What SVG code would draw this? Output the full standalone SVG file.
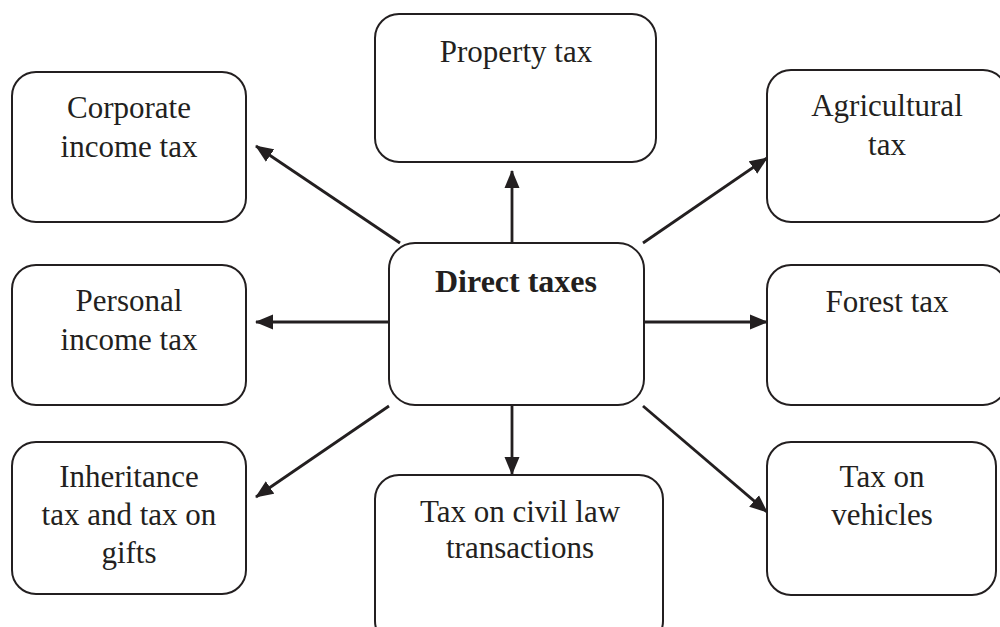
<svg xmlns="http://www.w3.org/2000/svg" width="1000" height="627" viewBox="0 0 1000 627">
<style>
.box{fill:#fff;stroke:#231f20;stroke-width:2}
.t{font-family:"Liberation Serif","Times New Roman",serif;font-size:31px;fill:#231f20;text-anchor:middle}
.b{font-weight:bold;font-size:32px}
.c{stroke:#231f20;stroke-width:2.8;fill:none;marker-end:url(#ah)}
</style>
<defs>
<marker id="ah" markerUnits="userSpaceOnUse" markerWidth="18" markerHeight="16" viewBox="0 0 18 16" refX="17" refY="8" orient="auto">
<path d="M0,0.5 L18,8 L0,15.5 Z" fill="#231f20"/>
</marker>
</defs>
<rect width="1000" height="627" fill="#fff"/>
<g id="connectors">
<line class="c" x1="512" y1="243" x2="512" y2="171"/>
<line class="c" x1="400" y1="243" x2="256" y2="146"/>
<line class="c" x1="643" y1="243" x2="767" y2="158"/>
<line class="c" x1="389" y1="322" x2="256" y2="322"/>
<line class="c" x1="644" y1="322" x2="767" y2="322"/>
<line class="c" x1="389" y1="406" x2="256" y2="497"/>
<line class="c" x1="512" y1="405" x2="512" y2="474"/>
<line class="c" x1="643" y1="406" x2="767" y2="512"/>
</g>
<g id="direct">
<rect class="box" x="389" y="243" width="255" height="162" rx="26"/>
<text class="t b" x="516" y="292">Direct taxes</text>
</g>
<g id="property">
<rect class="box" x="375" y="14" width="281" height="148" rx="24"/>
<text class="t" x="516" y="62">Property tax</text>
</g>
<g id="corporate">
<rect class="box" x="12" y="72" width="234" height="150" rx="24"/>
<text class="t" x="129" y="118">Corporate</text>
<text class="t" x="129" y="157">income tax</text>
</g>
<g id="agricultural">
<rect class="box" x="767" y="70" width="240" height="152" rx="24"/>
<text class="t" x="887" y="116">Agricultural</text>
<text class="t" x="887" y="155">tax</text>
</g>
<g id="personal">
<rect class="box" x="12" y="265" width="234" height="140" rx="24"/>
<text class="t" x="129" y="311">Personal</text>
<text class="t" x="129" y="350">income tax</text>
</g>
<g id="forest">
<rect class="box" x="767" y="265" width="240" height="140" rx="24"/>
<text class="t" x="887" y="312">Forest tax</text>
</g>
<g id="inheritance">
<rect class="box" x="12" y="442" width="234" height="152" rx="24"/>
<text class="t" x="129" y="487">Inheritance</text>
<text class="t" x="129" y="525">tax and tax on</text>
<text class="t" x="129" y="563">gifts</text>
</g>
<g id="civil">
<rect class="box" x="375" y="475" width="288" height="170" rx="24"/>
<text class="t" x="520" y="522">Tax on civil law</text>
<text class="t" x="520" y="558">transactions</text>
</g>
<g id="vehicles">
<rect class="box" x="767" y="442" width="229" height="153" rx="24"/>
<text class="t" x="882" y="487">Tax on</text>
<text class="t" x="882" y="525">vehicles</text>
</g>
</svg>
